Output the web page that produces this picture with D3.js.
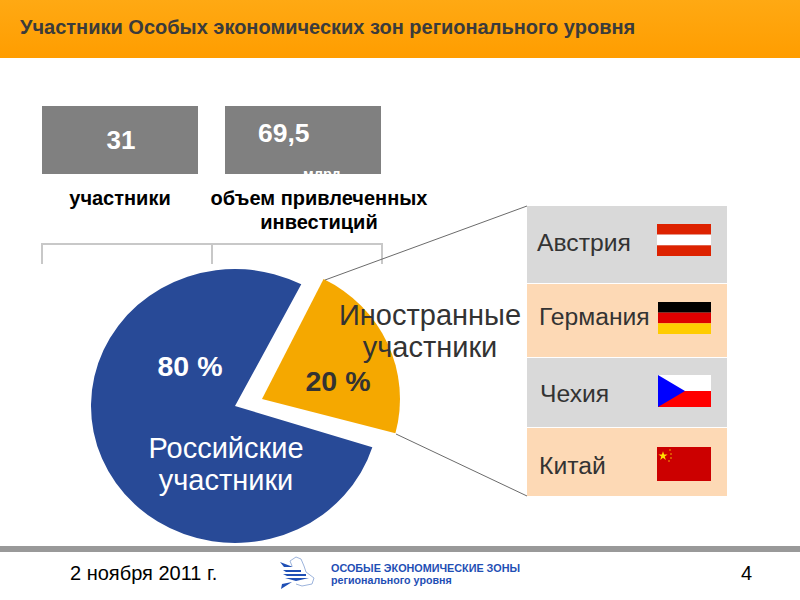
<!DOCTYPE html>
<html>
<head>
<meta charset="utf-8">
<script src="https://cdn.jsdelivr.net/npm/d3@7"></script>
<style>
  html, body { margin: 0; padding: 0; background: #fff; }
  svg { display: block; font-family: "Liberation Sans", Arial, sans-serif; }
</style>
</head>
<body>
<svg width="800" height="600"></svg>
<script>
const title = 'Участники Особых экономических зон регионального уровня';
const sliceNames = ['Иностранные участники', 'Российские участники'];
const sliceValues = [20, 80];
const sliceLabels = ['20 %', '80 %'];
const countries = ['Австрия', 'Германия', 'Чехия', 'Китай'];
const austriaStripes = ['#dd2200', '#ffffff', '#dd2200'];
const germanyStripes = ['#000000', '#dd0000', '#ffcc00'];
const czechStripes = ['#ffffff', '#ff0000'];
const chinaStripes = ['#cc0000'];
const footerDate = '2 ноября 2011 г.';
const pageNumber = '4';

const svg = d3.select('svg');

// small helper so the many text labels stay one line each
function label(parent, str, x, y, size, fill, weight, anchor) {
  return parent.append('text')
    .text(str)
    .attr('x', x)
    .attr('y', y)
    .style('font-size', size + 'px')
    .style('fill', fill)
    .style('font-weight', weight || 'normal')
    .style('text-anchor', anchor || 'start');
}

// header
const defs = svg.append('defs');
const headGrad = defs.append('linearGradient')
  .attr('id', 'head')
  .attr('x1', 0).attr('x2', 0).attr('y1', 0).attr('y2', 1);
headGrad.append('stop').attr('offset', 0).attr('stop-color', '#ffa913');
headGrad.append('stop').attr('offset', 1).attr('stop-color', '#ff9d00');

svg.append('rect')
  .attr('width', 800)
  .attr('height', 58)
  .style('fill', 'url(#head)');
label(svg, title, 20, 34, 20, '#3b3b3b', 'bold');

// two gray boxes
const boxes = svg.append('g');
defs.append('clipPath').attr('id', 'box2')
  .append('rect').attr('x', 225).attr('y', 106).attr('width', 156).attr('height', 68);

boxes.selectAll('rect')
  .data([42, 225])
  .join('rect')
  .attr('x', d => d)
  .attr('y', 106)
  .attr('width', 156)
  .attr('height', 68)
  .style('fill', '#808080');

label(boxes, '31', 121, 149, 26, '#fff', 'bold', 'middle');
label(boxes, '69,5', 258, 142, 26.5, '#fff', 'bold');
label(boxes, 'млрд.', 303, 178.5, 14.5, '#fff', 'bold').attr('clip-path', 'url(#box2)');

label(svg, 'участники', 120, 205, 20, '#000', 'bold', 'middle');
label(svg, 'объем привлеченных', 319, 205, 20, '#000', 'bold', 'middle');
label(svg, 'инвестиций', 319, 229, 20, '#000', 'bold', 'middle');

// bracket above the pie
svg.append('path')
  .attr('d', 'M42,264V244H382V264M212,244V264')
  .style('fill', 'none')
  .style('stroke', '#c8c8c8')
  .style('stroke-width', 2);

// pie is tilted in the picture: true angles are bent by this scale,
// and each slice keeps its own center, squash and small turn
const tilt = d3.scaleLinear()
  .domain([0, 72, 360])
  .range([26.5, 104.8, 384.7]);
const sliceGeom = [
  { cx: 262, cy: 399, rx: 138, ry: 134, turn: 0, fill: '#f5a800' },
  { cx: 235, cy: 406, rx: 144, ry: 137, turn: 2.7, fill: '#284a97' }
];
const pieSlices = d3.pie().sort(null)(sliceValues);
const deg = 180 / Math.PI;

svg.append('g').selectAll('path')
  .data(pieSlices)
  .join('path')
  .attr('transform', (d, i) => {
    const g = sliceGeom[i];
    return `translate(${g.cx},${g.cy}) scale(1,${g.ry / g.rx})`;
  })
  .attr('d', (d, i) => {
    const g = sliceGeom[i];
    return d3.arc()({
      innerRadius: 0,
      outerRadius: g.rx,
      startAngle: (tilt(d.startAngle * deg) + g.turn) / deg,
      endAngle: (tilt(d.endAngle * deg) + g.turn) / deg
    });
  })
  .style('fill', (d, i) => sliceGeom[i].fill);

// leader lines to the table
const lines = [[325, 280, 527, 206], [396, 434, 527, 496]];
svg.append('g').selectAll('line')
  .data(lines)
  .join('line')
  .attr('x1', d => d[0])
  .attr('y1', d => d[1])
  .attr('x2', d => d[2])
  .attr('y2', d => d[3])
  .style('stroke', '#6b6b6b')
  .style('stroke-width', 1);

label(svg, sliceLabels[0], 338, 391, 28.5, '#333', 'bold', 'middle');
label(svg, sliceLabels[1], 190, 376, 28.5, '#fff', 'bold', 'middle');

const foreign = sliceNames[0].split(' ');
label(svg, foreign[0], 430, 325, 29, '#333', 'normal', 'middle');
label(svg, foreign[1], 430, 357, 29, '#333', 'normal', 'middle');
const russian = sliceNames[1].split(' ');
label(svg, russian[0], 226, 458, 29, '#fff', 'normal', 'middle');
label(svg, russian[1], 226, 490, 29, '#fff', 'normal', 'middle');

// country table
const rowTops = [206, 284, 358, 428];
const rowHeights = [77, 73, 69, 68];
const rowFills = ['#d9d9d9', '#fdd9b5', '#d9d9d9', '#fdd9b5'];
const textX = [537, 539, 540, 539];
const textY = [251, 325, 402, 474];

svg.append('g').selectAll('rect')
  .data(countries)
  .join('rect')
  .attr('x', 527)
  .attr('y', (d, i) => rowTops[i])
  .attr('width', 200)
  .attr('height', (d, i) => rowHeights[i])
  .style('fill', (d, i) => rowFills[i]);

svg.append('g').selectAll('text')
  .data(countries)
  .join('text')
  .text(d => d)
  .attr('x', (d, i) => textX[i])
  .attr('y', (d, i) => textY[i])
  .style('font-size', '24.7px')
  .style('fill', '#333');

// flags
function stripes(colors, x, y, w, h) {
  const band = d3.scaleBand().domain(d3.range(colors.length)).range([y, y + h]);
  const g = svg.append('g');
  g.selectAll('rect')
    .data(colors)
    .join('rect')
    .attr('x', x)
    .attr('y', (d, i) => band(i))
    .attr('width', w)
    .attr('height', band.bandwidth())
    .style('fill', d => d);
  return g;
}

stripes(austriaStripes, 657, 224, 54, 32);
stripes(germanyStripes, 658, 302, 53, 32);
const czech = stripes(czechStripes, 658, 375, 53, 32);
czech.append('path').attr('d', 'M658,375L685,391L658,407Z').style('fill', '#0000ff');
const china = stripes(chinaStripes, 657, 447, 54, 34);
china.append('path')
  .attr('d', d3.symbol(d3.symbolStar, 26)())
  .attr('transform', 'translate(663,456)')
  .style('fill', '#ffe000');
china.selectAll('circle')
  .data([[670, 450], [671, 454], [671, 458], [669, 461]])
  .join('circle')
  .attr('cx', d => d[0])
  .attr('cy', d => d[1])
  .attr('r', 0.7)
  .style('fill', '#ffe000');

// footer
svg.append('rect')
  .attr('y', 546)
  .attr('width', 800)
  .attr('height', 6)
  .style('fill', '#999');
label(svg, footerDate, 70, 580, 20, '#000');
label(svg, pageNumber, 752, 580, 20, '#000', 'normal', 'end');

// logo
const logo = svg.append('g');
logo.append('path')
  .attr('d', 'M292,566L290,561L296,557L301,559L304,566L306,572L314,578L312,584L302,586L296,584')
  .style('fill', 'none')
  .style('stroke', '#9db4dc')
  .style('stroke-width', 1);
logo.append('path')
  .attr('d', 'M280,562L293,567H284ZM283,570H301V572H286ZM283,574H306V576H287ZM285,578H309L296,581ZM292,582L281,589L282,584Z')
  .style('fill', '#1f4fb5');
label(logo, 'ОСОБЫЕ ЭКОНОМИЧЕСКИЕ ЗОНЫ', 331, 572, 10.8, '#1f4fb5', 'bold');
label(logo, 'регионального уровня', 331, 584, 10.7, '#1f4fb5', 'bold');
</script>
</body>
</html>
